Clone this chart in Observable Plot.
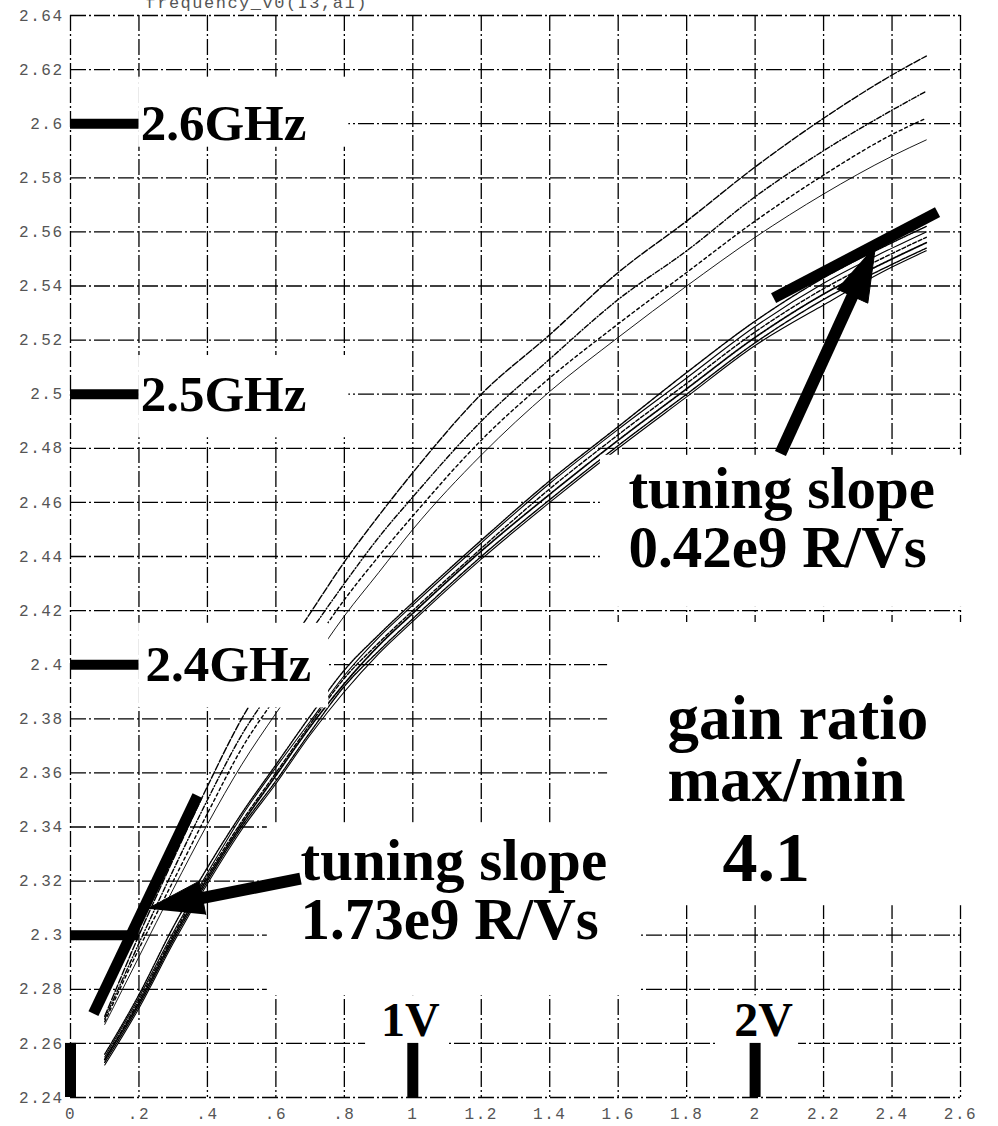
<!DOCTYPE html>
<html>
<head>
<meta charset="utf-8">
<script src="https://cdn.jsdelivr.net/npm/d3@7"></script>
<script src="https://cdn.jsdelivr.net/npm/@observablehq/plot@0.6"></script>
<style>
  html, body { margin: 0; padding: 0; background: #fff; }
  #chart { width: 998px; height: 1126px; overflow: hidden; }
</style>
</head>
<body>
<div id="chart"></div>
<script>
// ---------- data ----------
const voltage = [0.1, 0.2, 0.3, 0.4, 0.5, 0.6, 0.7, 0.8, 0.9, 1.0, 1.2, 1.4, 1.6, 1.8, 2.0, 2.2, 2.4, 2.5];

// upper bundle (4 curves), frequency in GHz
const upperA = [2.270, 2.300, 2.328, 2.355, 2.380, 2.400, 2.419, 2.438, 2.455, 2.471, 2.500, 2.522, 2.545, 2.564, 2.584, 2.602, 2.618, 2.625];
const upperB = [2.269, 2.297, 2.324, 2.350, 2.374, 2.393, 2.412, 2.430, 2.447, 2.462, 2.490, 2.513, 2.535, 2.553, 2.573, 2.590, 2.605, 2.612];
const upperC = [2.268, 2.295, 2.320, 2.345, 2.369, 2.388, 2.406, 2.424, 2.440, 2.455, 2.483, 2.506, 2.526, 2.545, 2.564, 2.581, 2.596, 2.602];
const upperD = [2.267, 2.292, 2.317, 2.341, 2.363, 2.382, 2.400, 2.418, 2.434, 2.450, 2.4775, 2.501, 2.521, 2.540, 2.558, 2.574, 2.588, 2.594];

// lower bundle (6 curves)
const lower1 = [2.256, 2.278, 2.303, 2.325, 2.345, 2.363, 2.381, 2.398, 2.411, 2.423, 2.446, 2.468, 2.488, 2.508, 2.527, 2.543, 2.556, 2.562];
const lower2 = [2.255, 2.277, 2.301, 2.323, 2.344, 2.362, 2.379, 2.396, 2.410, 2.422, 2.445, 2.467, 2.487, 2.506, 2.525, 2.541, 2.554, 2.560];
const lower3 = [2.254, 2.276, 2.300, 2.322, 2.342, 2.360, 2.378, 2.395, 2.408, 2.420, 2.443, 2.465, 2.485, 2.504, 2.523, 2.539, 2.552, 2.558];
const lower4 = [2.254, 2.275, 2.299, 2.321, 2.341, 2.359, 2.377, 2.393, 2.407, 2.419, 2.442, 2.463, 2.483, 2.502, 2.521, 2.537, 2.550, 2.556];
const lower5 = [2.253, 2.274, 2.298, 2.320, 2.340, 2.357, 2.375, 2.392, 2.405, 2.417, 2.440, 2.461, 2.481, 2.500, 2.519, 2.535, 2.548, 2.554];
const lower6 = [2.252, 2.273, 2.297, 2.319, 2.339, 2.356, 2.374, 2.390, 2.404, 2.416, 2.439, 2.460, 2.480, 2.499, 2.518, 2.533, 2.547, 2.553];

// ticks
const xTicks = [0, 0.2, 0.4, 0.6, 0.8, 1.0, 1.2, 1.4, 1.6, 1.8, 2.0, 2.2, 2.4, 2.6];
const yTicks = [2.24, 2.26, 2.28, 2.30, 2.32, 2.34, 2.36, 2.38, 2.40, 2.42, 2.44, 2.46, 2.48, 2.50, 2.52, 2.54, 2.56, 2.58, 2.60, 2.62, 2.64];

// annotation content (data units)
const title = "frequency_v0(I3,a1)";
const ghzLevels = [2.6, 2.5, 2.4, 2.3];
const voltLevels = [0, 1, 2];
const ghzLabels = [
  {text: "2.6GHz", x: 0.205, y: 2.6},
  {text: "2.5GHz", x: 0.205, y: 2.5},
  {text: "2.4GHz", x: 0.219, y: 2.4}
];
const slopeLabels = [
  {text: "tuning slope\n0.42e9 R/Vs", x: 1.630, y: 2.4539},
  {text: "tuning slope\n1.73e9 R/Vs", x: 0.672, y: 2.3166}
];
const gainLabel = [{text: "gain ratio\nmax/min", x: 1.744, y: 2.3683}];
const ratioLabel = [{text: "4.1", x: 1.905, y: 2.3285}];
const voltLabels = [
  {text: "1V", x: 0.993, y: 2.2685},
  {text: "2V", x: 2.025, y: 2.2685}
];
const slopeLines = [
  {x1: 0.067, y1: 2.271, x2: 0.371, y2: 2.3516},
  {x1: 2.054, y1: 2.5355, x2: 2.533, y2: 2.5673}
];
const arrows = [
  {x1: 0.672, y1: 2.3209, x2: 0.225, y2: 2.3098},
  {x1: 2.074, y1: 2.4781, x2: 2.352, y2: 2.5551}
];
// white backgrounds of the pasted text boxes
const textBoxes = [
  {x1: 0.199, x2: 0.813, y1: 2.5913, y2: 2.6172},
  {x1: 0.199, x2: 0.813, y1: 2.4839, y2: 2.5143},
  {x1: 0.199, x2: 0.754, y1: 2.3840, y2: 2.4153},
  {x1: 1.548, x2: 2.620, y1: 2.4212, y2: 2.4774},
  {x1: 1.569, x2: 2.620, y1: 2.3109, y2: 2.4156},
  {x1: 0.575, x2: 1.665, y1: 2.2776, y2: 2.3416},
  {x1: 0.862, x2: 1.101, y1: 2.2586, y2: 2.2776},
  {x1: 1.890, x2: 2.127, y1: 2.2586, y2: 2.2776}
];

// ---------- layout & style ----------
const W = 998, H = 1126;
const M = {top: 15, right: 38, bottom: 29, left: 70};
const xDomain = [0, 2.6], yDomain = [2.24, 2.64];
const kx = (W - M.left - M.right) / (xDomain[1] - xDomain[0]);
const ky = (H - M.top - M.bottom) / (yDomain[1] - yDomain[0]);

const series = [
  {name: "A", values: upperA}, {name: "B", values: upperB},
  {name: "C", values: upperC}, {name: "D", values: upperD},
  {name: "L1", values: lower1}, {name: "L2", values: lower2},
  {name: "L3", values: lower3}, {name: "L4", values: lower4},
  {name: "L5", values: lower5}, {name: "L6", values: lower6}
];
const curveStyle = {
  A: {dash: "7,2", w: 1.4}, B: {dash: "5,2,1,2", w: 1.4},
  C: {dash: "3,3", w: 1.4}, D: {dash: null, w: 0.9},
  L1: {dash: "2,1", w: 1.4}, L2: {dash: null, w: 1.1},
  L3: {dash: "4,2", w: 1.4}, L4: {dash: "1,1", w: 1.7},
  L5: {dash: "3,1,1,1", w: 1.4}, L6: {dash: null, w: 1.1}
};
const curveMarks = series.map(s => {
  const rows = voltage.map((v, i) => ({x: v, y: s.values[i]}));
  const st = curveStyle[s.name];
  return Plot.line(rows, {x: "x", y: "y", curve: "monotone-x", stroke: "black",
    strokeWidth: st.w, strokeDasharray: st.dash || undefined});
});

// arrow heads computed in pixel space via the scale factors
function headOf(a, L, Wd) {
  const dx = (a.x2 - a.x1) * kx, dy = -(a.y2 - a.y1) * ky;
  const len = Math.hypot(dx, dy), ux = dx / len, uy = dy / len;
  const nx = -uy, ny = ux;
  const bx = -ux * L, by = -uy * L;
  const pts = [[0, 0], [bx + nx * Wd / 2, by + ny * Wd / 2], [bx - nx * Wd / 2, by - ny * Wd / 2]];
  return {
    poly: pts.map(([px, py]) => ({x: a.x2 + px / kx, y: a.y2 - py / ky})),
    base: {x: a.x2 + (-ux * (L - 6)) / kx, y: a.y2 - (-uy * (L - 6)) / ky}
  };
}
const headRows = [], shafts = [];
arrows.forEach((a, i) => {
  const h = headOf(a, 56, 34);
  h.poly.forEach(p => headRows.push({...p, id: i}));
  shafts.push({x1: a.x1, y1: a.y1, x2: h.base.x, y2: h.base.y});
});

const serif = "'Liberation Serif', 'Times New Roman', Times, serif";
const mono = "'Liberation Mono', 'Courier New', monospace";
const gridDash = "16,3,2,3";
const fmtX = d => d === 0 ? "0" : (d < 1 ? String(+d.toFixed(1)).replace(/^0/, "") : String(+d.toFixed(1)));
const fmtY = d => String(+d.toFixed(2));

const chart = Plot.plot({
  width: W, height: H,
  marginTop: M.top, marginRight: M.right, marginBottom: M.bottom, marginLeft: M.left,
  style: {background: "white", fontFamily: mono, fontSize: "16px", color: "#555"},
  x: {domain: xDomain, ticks: xTicks, tickFormat: fmtX, tickSize: 0, tickPadding: 10, label: null},
  y: {domain: yDomain, ticks: yTicks, tickFormat: fmtY, tickSize: 0, tickPadding: 7, label: null},
  marks: [
    Plot.ruleX(xTicks, {stroke: "#000", strokeWidth: 1.3, strokeDasharray: gridDash}),
    Plot.ruleY(yTicks, {stroke: "#000", strokeWidth: 1.3, strokeDasharray: gridDash}),
    ...curveMarks,
    Plot.rect(textBoxes, {x1: "x1", x2: "x2", y1: "y1", y2: "y2", fill: "white"}),
    Plot.ruleY(ghzLevels, {x1: 0, x2: 0.2, stroke: "black", strokeWidth: 10}),
    Plot.ruleX(voltLevels, {y1: 2.24, y2: 2.26, stroke: "black", strokeWidth: 11}),
    Plot.link(slopeLines, {x1: "x1", y1: "y1", x2: "x2", y2: "y2", stroke: "black", strokeWidth: 11}),
    Plot.link(shafts, {x1: "x1", y1: "y1", x2: "x2", y2: "y2", stroke: "black", strokeWidth: 12}),
    Plot.line(headRows, {x: "x", y: "y", z: "id", fill: "black", stroke: "black", strokeWidth: 1}),
    Plot.text(ghzLabels, {x: "x", y: "y", text: "text", textAnchor: "start", fontFamily: serif, fontWeight: "bold", fontSize: 51, fill: "black"}),
    Plot.text(slopeLabels, {x: "x", y: "y", text: "text", textAnchor: "start", fontFamily: serif, fontWeight: "bold", fontSize: 59, lineHeight: 1.0, fill: "black"}),
    Plot.text(gainLabel, {x: "x", y: "y", text: "text", textAnchor: "start", fontFamily: serif, fontWeight: "bold", fontSize: 63, lineHeight: 0.98, fill: "black"}),
    Plot.text(ratioLabel, {x: "x", y: "y", text: "text", textAnchor: "start", fontFamily: serif, fontWeight: "bold", fontSize: 70, fill: "black"}),
    Plot.text(voltLabels, {x: "x", y: "y", text: "text", textAnchor: "middle", fontFamily: serif, fontWeight: "bold", fontSize: 48, fill: "black"}),
    Plot.text([title], {frameAnchor: "top-left", dx: 75, dy: -8, lineAnchor: "bottom", textAnchor: "start", fontFamily: mono, fontSize: 17, fill: "#555"})
  ]
});

d3.select(chart).selectAll("g[aria-label^='x-axis'] text, g[aria-label^='y-axis'] text")
  .style("letter-spacing", "1.5px");
d3.select(chart).selectAll("text").filter(function () { return this.textContent === title; })
  .style("letter-spacing", "1.5px");
document.getElementById("chart").appendChild(chart);
</script>
</body>
</html>
